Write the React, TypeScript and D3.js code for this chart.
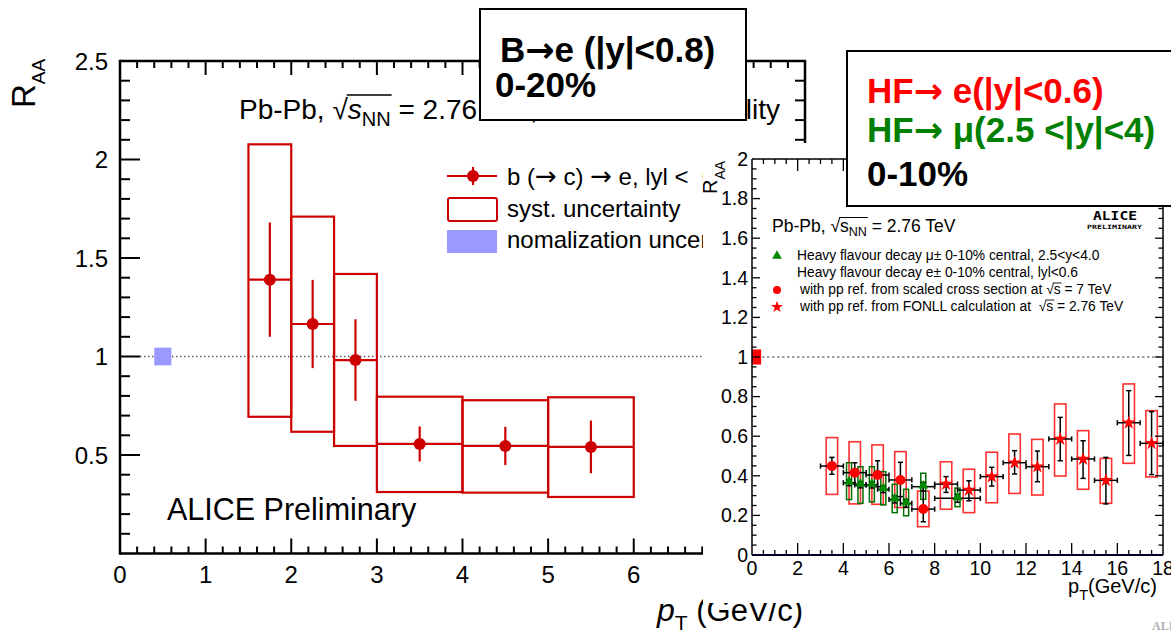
import React, { useEffect, useRef } from 'react';
import * as d3 from 'd3';

const FONT = '"Liberation Sans", Arial, Helvetica, sans-serif';
const ARROW_FONT = '"DejaVu Sans", sans-serif';

// ---- Main panel: b(->c)->e R_AA, Pb-Pb 0-20% ----
const beBinLo = [1.5, 2.0, 2.5, 3.0, 4.0, 5.0];
const beBinHi = [2.0, 2.5, 3.0, 4.0, 5.0, 6.0];
const bePt = [1.75, 2.25, 2.75, 3.5, 4.5, 5.5];
const beRaa = [1.39, 1.165, 0.982, 0.556, 0.546, 0.541];
const beStat = [0.29, 0.224, 0.207, 0.089, 0.097, 0.134];
const beSysHi = [2.077, 1.71, 1.419, 0.796, 0.778, 0.793];
const beSysLo = [0.694, 0.618, 0.546, 0.312, 0.309, 0.287];
const normBox = { x0: 0.4, x1: 0.6, y0: 0.955, y1: 1.045 };

const mainXTicks = [0, 1, 2, 3, 4, 5, 6, 7, 8];
const mainYTicks = [0.5, 1, 1.5, 2, 2.5];

// ---- Inset panel: HF decay leptons, 0-10% ----
// electrons, pp reference from scaled 7 TeV cross section
const eCircPt = [3.5, 4.5, 5.5, 6.5, 7.5];
const eCircRaa = [0.449, 0.416, 0.404, 0.379, 0.232];
const eCircStatUp = [0.044, 0.05, 0.072, 0.089, 0.11];
const eCircStatDn = [0.041, 0.058, 0.059, 0.084, 0.064];
const eCircSysHi = [0.593, 0.572, 0.556, 0.522, 0.323];
const eCircSysLo = [0.306, 0.258, 0.256, 0.24, 0.143];
// electrons, pp reference from FONLL at 2.76 TeV
const eStarPt = [8.5, 9.5, 10.5, 11.5, 12.5, 13.5, 14.5, 15.5, 16.5, 17.5];
const eStarRaa = [0.358, 0.328, 0.396, 0.466, 0.446, 0.586, 0.485, 0.377, 0.668, 0.564];
const eStarStatUp = [0.038, 0.047, 0.047, 0.061, 0.079, 0.109, 0.092, 0.116, 0.162, 0.16];
const eStarStatDn = [0.042, 0.054, 0.048, 0.057, 0.076, 0.11, 0.098, 0.119, 0.165, 0.158];
const eStarSysHi = [0.471, 0.433, 0.519, 0.611, 0.584, 0.763, 0.628, 0.488, 0.864, 0.729];
const eStarSysLo = [0.231, 0.214, 0.264, 0.311, 0.303, 0.399, 0.332, 0.261, 0.463, 0.394];
const eBinHalf = 0.5;
const eBoxHalf = 0.25;
// muons, 2.5<y<4
const muPt = [4.25, 4.75, 5.25, 5.75, 6.25, 6.75, 7.5, 9.0];
const muBinHalf = [0.25, 0.25, 0.25, 0.25, 0.25, 0.25, 0.5, 1.0];
const muRaa = [0.365, 0.354, 0.354, 0.332, 0.281, 0.261, 0.345, 0.286];
const muStat = [0.015, 0.015, 0.016, 0.017, 0.018, 0.02, 0.022, 0.02];
const muSysHi = [0.466, 0.446, 0.446, 0.421, 0.357, 0.332, 0.413, 0.338];
const muSysLo = [0.28, 0.261, 0.268, 0.253, 0.214, 0.198, 0.281, 0.244];
const muBoxHalf = 0.11;
const insetNorm = { x0: 0, x1: 0.4, y0: 0.962, y1: 1.038 };

const insetXTicks = [0, 2, 4, 6, 8, 10, 12, 14, 16, 18];
const insetYTicks = [0, 0.2, 0.4, 0.6, 0.8, 1, 1.2, 1.4, 1.6, 1.8, 2];

type Sel = d3.Selection<any, unknown, null, undefined>;
type Opts = { weight?: string; italic?: boolean; fill?: string; anchor?: string; family?: string };
type Piece = Opts & { t: string; size: number; dy?: number; over?: boolean };

function txt(g: Sel, x: number, y: number, t: string, size: number, o: Opts = {}) {
  return g
    .append('text')
    .attr('x', x)
    .attr('y', y)
    .attr('xml:space', 'preserve')
    .style('white-space', 'pre')
    .attr('font-family', o.family || FONT)
    .attr('font-size', size)
    .attr('font-weight', o.weight || 'normal')
    .attr('font-style', o.italic ? 'italic' : 'normal')
    .attr('fill', o.fill || '#000')
    .attr('text-anchor', o.anchor || 'start')
    .text(t);
}

// lays text pieces side by side; pieces flagged "over" get a radical bar
function rich(g: Sel, x: number, y: number, pieces: Piece[], overY = 0, overW = 1.2) {
  let cx = x;
  let o0: number | null = null;
  let o1 = 0;
  for (const p of pieces) {
    const el = txt(g, cx, y + (p.dy || 0), p.t, p.size, p);
    const w = (el.node() as SVGTextElement).getComputedTextLength();
    if (p.over) {
      if (o0 === null) o0 = cx;
      o1 = cx + w;
    }
    cx += w;
  }
  if (o0 !== null) {
    g.append('line')
      .attr('x1', o0 - 1).attr('x2', o1 + 1)
      .attr('y1', y - overY).attr('y2', y - overY)
      .attr('stroke', '#000').attr('stroke-width', overW);
  }
  return cx;
}

function line(g: Sel, x1: number, y1: number, x2: number, y2: number, stroke: string, w: number) {
  return g.append('line').attr('x1', x1).attr('y1', y1).attr('x2', x2).attr('y2', y2)
    .attr('stroke', stroke).attr('stroke-width', w);
}

function drawMain(svg: Sel) {
  const g = svg.append('g');
  const x = d3.scaleLinear().domain([0, 8]).range([120, 805]);
  const y = d3.scaleLinear().domain([0, 2.5]).range([553.5, 61]);
  const red = '#cc0000';

  // reference line at unity
  line(g, x(0) + 20, y(1), x(8), y(1), '#555', 1.3).attr('stroke-dasharray', '1.4,2.6');

  // normalization uncertainty
  g.append('rect')
    .attr('x', x(normBox.x0)).attr('width', x(normBox.x1) - x(normBox.x0))
    .attr('y', y(normBox.y1)).attr('height', y(normBox.y0) - y(normBox.y1))
    .attr('fill', '#9999ff');

  // systematic boxes, bin-width bars, statistical bars, markers
  bePt.forEach((pt, i) => {
    g.append('rect')
      .attr('x', x(beBinLo[i])).attr('width', x(beBinHi[i]) - x(beBinLo[i]))
      .attr('y', y(beSysHi[i])).attr('height', y(beSysLo[i]) - y(beSysHi[i]))
      .attr('fill', 'none').attr('stroke', red).attr('stroke-width', 2.2);
  });
  bePt.forEach((pt, i) => {
    line(g, x(beBinLo[i]), y(beRaa[i]), x(beBinHi[i]), y(beRaa[i]), red, 2.2);
    line(g, x(pt), y(beRaa[i] + beStat[i]), x(pt), y(beRaa[i] - beStat[i]), red, 2.2);
    g.append('circle').attr('cx', x(pt)).attr('cy', y(beRaa[i])).attr('r', 6).attr('fill', red);
  });

  // frame
  const ax = '#000';
  line(g, x(0), y(0), x(8), y(0), ax, 2.5);
  line(g, x(0), y(0) + 1.2, x(0), y(2.5) - 1.2, ax, 2.5);
  line(g, x(0), y(2.5), x(8) + 1.2, y(2.5), ax, 2.5);
  line(g, x(8), y(0), x(8), y(2.5), ax, 2.5);

  // ticks
  x.ticks(40).forEach((v) => {
    const major = Math.abs(v - Math.round(v)) < 1e-6;
    if (v <= 0 || v >= 8) return;
    line(g, x(v), y(0), x(v), y(0) - (major ? 15 : 7), ax, 2);
    line(g, x(v), y(2.5), x(v), y(2.5) + (major ? 14 : 7), ax, 2);
  });
  y.ticks(25).forEach((v) => {
    const major = Math.abs(v * 2 - Math.round(v * 2)) < 1e-6;
    if (v <= 0 || v >= 2.5) return;
    line(g, x(0), y(v), x(0) + (major ? 20 : 10), y(v), ax, 2);
    line(g, x(8), y(v), x(8) - (major ? 20 : 10), y(v), ax, 2);
  });

  mainYTicks.forEach((v) => txt(g, 108, y(v) + 8.5, String(v), 24, { anchor: 'end' }));
  mainXTicks.forEach((v) => txt(g, x(v), 583, String(v), 24, { anchor: 'middle' }));

  // axis titles
  const yt = g.append('g').attr('transform', 'translate(35,108) rotate(-90)');
  rich(yt, 0, 0, [{ t: 'R', size: 33 }, { t: 'AA', size: 19, dy: 10 }]);
  rich(g, 657, 621, [
    { t: 'p', size: 32, italic: true },
    { t: 'T', size: 21, dy: 9 },
    { t: ' (GeV/c)', size: 31 },
  ]);

  // collision system / centrality
  rich(g, 239, 119, [
    { t: 'Pb-Pb, ', size: 28 },
    { t: '\u221A', size: 28 },
    { t: 's', size: 28, italic: true, over: true },
    { t: 'NN', size: 20, dy: 7, over: true },
    { t: ' = 2.76 TeV, 0-20%', size: 28 },
  ], 24, 1.5);
  txt(g, 780, 119, 'centrality', 28, { anchor: 'end' });

  // legend
  line(g, 447, 176, 497, 176, red, 2.2);
  line(g, 473, 167, 473, 185, red, 2.2);
  g.append('circle').attr('cx', 473).attr('cy', 176).attr('r', 6).attr('fill', red);
  rich(g, 507, 185, [
    { t: 'b (', size: 24 },
    { t: '\u2192', size: 26, family: ARROW_FONT },
    { t: ' c) ', size: 24 },
    { t: '\u2192', size: 26, family: ARROW_FONT },
    { t: ' e, lyl <  0.8', size: 24 },
  ]);
  g.append('rect').attr('x', 448).attr('y', 198).attr('width', 49).attr('height', 23).attr('rx', 2)
    .attr('fill', 'none').attr('stroke', red).attr('stroke-width', 2);
  txt(g, 507, 217, 'syst. uncertainty', 24);
  g.append('rect').attr('x', 447).attr('y', 230).attr('width', 50).attr('height', 23).attr('fill', '#9999ff');
  txt(g, 507, 248, 'nomalization uncertainty', 24);

  txt(g, 167, 520, 'ALICE Preliminary', 30.5);
}

function errBar(g: Sel, x1: number, y1: number, x2: number, y2: number, vertical: boolean) {
  const c = 2.6;
  line(g, x1, y1, x2, y2, '#000', 1.5);
  if (vertical) {
    line(g, x1 - c, y1, x1 + c, y1, '#000', 1.5);
    line(g, x2 - c, y2, x2 + c, y2, '#000', 1.5);
  } else {
    line(g, x1, y1 - c, x1, y1 + c, '#000', 1.5);
    line(g, x2, y2 - c, x2, y2 + c, '#000', 1.5);
  }
}

function drawInset(svg: Sel) {
  const g = svg.append('g');
  g.append('rect').attr('x', 703).attr('y', 143).attr('width', 470).attr('height', 460).attr('fill', '#fff');

  const x = d3.scaleLinear().domain([0, 18]).range([752, 1163]);
  const y = d3.scaleLinear().domain([0, 2]).range([555, 159]);
  const red = '#ff0000';
  const green = '#008a00';

  line(g, x(0), y(1), x(18), y(1), '#444', 1.2).attr('stroke-dasharray', '2.5,2.5');
  g.append('rect')
    .attr('x', x(insetNorm.x0)).attr('width', x(insetNorm.x1) - x(insetNorm.x0))
    .attr('y', y(insetNorm.y1)).attr('height', y(insetNorm.y0) - y(insetNorm.y1))
    .attr('fill', red);

  // systematic boxes
  const box = (pt: number, half: number, hi: number, lo: number, col: string, w: number) =>
    g.append('rect')
      .attr('x', x(pt - half)).attr('width', x(pt + half) - x(pt - half))
      .attr('y', y(hi)).attr('height', y(lo) - y(hi))
      .attr('fill', 'none').attr('stroke', col).attr('stroke-width', w);
  eCircPt.forEach((pt, i) => box(pt, eBoxHalf, eCircSysHi[i], eCircSysLo[i], '#ff3030', 1.6));
  eStarPt.forEach((pt, i) => box(pt, eBoxHalf, eStarSysHi[i], eStarSysLo[i], '#ff3030', 1.6));
  muPt.forEach((pt, i) => box(pt, muBoxHalf, muSysHi[i], muSysLo[i], '#007000', 1.5));

  // error bars
  eCircPt.forEach((pt, i) => {
    errBar(g, x(pt - eBinHalf), y(eCircRaa[i]), x(pt + eBinHalf), y(eCircRaa[i]), false);
    errBar(g, x(pt), y(eCircRaa[i] + eCircStatUp[i]), x(pt), y(eCircRaa[i] - eCircStatDn[i]), true);
  });
  eStarPt.forEach((pt, i) => {
    errBar(g, x(pt - eBinHalf), y(eStarRaa[i]), x(pt + eBinHalf), y(eStarRaa[i]), false);
    errBar(g, x(pt), y(eStarRaa[i] + eStarStatUp[i]), x(pt), y(eStarRaa[i] - eStarStatDn[i]), true);
  });
  muPt.forEach((pt, i) => {
    errBar(g, x(pt - muBinHalf[i]), y(muRaa[i]), x(pt + muBinHalf[i]), y(muRaa[i]), false);
    errBar(g, x(pt), y(muRaa[i] + muStat[i]), x(pt), y(muRaa[i] - muStat[i]), true);
  });

  // markers
  const tri = d3.symbol(d3.symbolTriangle, 42)();
  const star = d3.symbol(d3.symbolStar, 60)();
  muPt.forEach((pt, i) =>
    g.append('path').attr('d', tri).attr('transform', `translate(${x(pt)},${y(muRaa[i]) - 1})`).attr('fill', green));
  eCircPt.forEach((pt, i) =>
    g.append('circle').attr('cx', x(pt)).attr('cy', y(eCircRaa[i])).attr('r', 5).attr('fill', red));
  eStarPt.forEach((pt, i) =>
    g.append('path').attr('d', star).attr('transform', `translate(${x(pt)},${y(eStarRaa[i])})`).attr('fill', red));

  // frame
  line(g, x(0), y(0), x(18), y(0), '#000022', 2);
  line(g, x(0), y(0), x(0), y(2), '#000', 1.5);
  line(g, x(0), y(2), x(18), y(2), '#000', 1.5);
  line(g, x(18), y(0), x(18), y(2), '#000', 1.5);
  x.ticks(36).forEach((v) => {
    if (v <= 0 || v >= 18) return;
    const major = Math.abs(v / 2 - Math.round(v / 2)) < 1e-6;
    line(g, x(v), y(0), x(v), y(0) - (major ? 12 : 5), '#000', 1.3);
    line(g, x(v), y(2), x(v), y(2) + (major ? 12 : 5), '#000', 1.3);
  });
  y.ticks(40).forEach((v) => {
    if (v <= 0 || v >= 2) return;
    const major = Math.abs(v * 5 - Math.round(v * 5)) < 1e-6;
    line(g, x(0), y(v), x(0) + (major ? 8 : 4.5), y(v), '#000', 1.3);
    line(g, x(18), y(v), x(18) - (major ? 8 : 4.5), y(v), '#000', 1.3);
  });
  insetYTicks.forEach((v) => txt(g, 748, y(v) + 6.8, String(v), 19.5, { anchor: 'end' }));
  insetXTicks.forEach((v) => txt(g, x(v), 575, String(v), 19.5, { anchor: 'middle' }));

  const yt = g.append('g').attr('transform', 'translate(717,194) rotate(-90)');
  rich(yt, 0, 0, [{ t: 'R', size: 20 }, { t: 'AA', size: 14, dy: 8 }]);
  rich(g, 1068, 593, [
    { t: 'p', size: 20 },
    { t: 'T', size: 14.5, dy: 7 },
    { t: '(GeV/c)', size: 20 },
  ]);

  rich(g, 772, 232, [
    { t: 'Pb-Pb, ', size: 17.5 },
    { t: '\u221A', size: 17.5 },
    { t: 's', size: 17.5, over: true },
    { t: 'NN', size: 12.5, dy: 4, over: true },
    { t: ' = 2.76 TeV', size: 17.5 },
  ], 14.5, 1);

  txt(g, 1093, 220, 'ALICE', 13, { weight: 'bold', family: '"DejaVu Sans Mono", monospace' })
    .attr('textLength', 44).attr('lengthAdjust', 'spacingAndGlyphs');
  txt(g, 1087, 229, 'PRELIMINARY', 6, { weight: 'bold', family: '"DejaVu Sans Mono", monospace' })
    .attr('textLength', 55).attr('lengthAdjust', 'spacingAndGlyphs');

  // legend
  const ls = 13.8;
  g.append('path').attr('d', tri).attr('transform', 'translate(777,256)').attr('fill', green);
  txt(g, 797, 260, 'Heavy flavour decay \u03BC\u00B1 0-10% central, 2.5<y<4.0', ls);
  txt(g, 797, 277, 'Heavy flavour decay e\u00B1 0-10% central, lyl<0.6', ls);
  g.append('circle').attr('cx', 777).attr('cy', 290).attr('r', 4).attr('fill', red);
  rich(g, 800, 294, [
    { t: 'with pp ref. from scaled cross section at ', size: ls },
    { t: '\u221A', size: ls },
    { t: 's', size: ls, over: true },
    { t: ' = 7 TeV', size: ls },
  ], 11, 0.9);
  g.append('path').attr('d', d3.symbol(d3.symbolStar, 45)()).attr('transform', 'translate(777,307)').attr('fill', red);
  rich(g, 800, 311, [
    { t: 'with pp ref. from FONLL calculation at  ', size: ls },
    { t: '\u221A', size: ls },
    { t: 's', size: ls, over: true },
    { t: ' = 2.76 TeV', size: ls },
  ], 11, 0.9);
}

function drawBoxes(svg: Sel) {
  const g = svg.append('g');
  const bs = 35;
  g.append('rect').attr('x', 480).attr('y', 9).attr('width', 266).attr('height', 111)
    .attr('fill', '#fff').attr('stroke', '#000').attr('stroke-width', 2);
  rich(g, 500, 62, [
    { t: 'B', size: bs, weight: 'bold' },
    { t: '\u2192', size: bs, weight: 'bold', family: ARROW_FONT },
    { t: 'e (|y|<0.8)', size: bs, weight: 'bold' },
  ]);
  txt(g, 495, 97, '0-20%', bs, { weight: 'bold' });

  g.append('rect').attr('x', 847).attr('y', 51).attr('width', 340).attr('height', 155)
    .attr('fill', '#fff').attr('stroke', '#000').attr('stroke-width', 2);
  rich(g, 867, 103, [
    { t: 'HF', size: bs, weight: 'bold', fill: '#ff0000' },
    { t: '\u2192', size: bs, weight: 'bold', fill: '#ff0000', family: ARROW_FONT },
    { t: ' e(|y|<0.6)', size: bs, weight: 'bold', fill: '#ff0000' },
  ]);
  rich(g, 867, 142, [
    { t: 'HF', size: bs, weight: 'bold', fill: '#008000' },
    { t: '\u2192', size: bs, weight: 'bold', fill: '#008000', family: ARROW_FONT },
    { t: ' \u03BC(2.5 <|y|<4)', size: bs, weight: 'bold', fill: '#008000' },
  ]);
  txt(g, 867, 186, '0-10%', bs, { weight: 'bold' });

  txt(g, 1152, 630, 'ALICE', 12, { weight: 'bold', fill: '#b0b0b0', family: '"Liberation Serif", serif' });
}

export default function App() {
  const ref = useRef<SVGSVGElement>(null);
  useEffect(() => {
    const svg = d3.select(ref.current) as Sel;
    svg.selectAll('*').remove();
    drawMain(svg);
    drawInset(svg);
    drawBoxes(svg);
  }, []);
  return (
    <div style={{ position: 'absolute', left: 0, top: 0 }}>
      <svg ref={ref} width={1171} height={637} style={{ display: 'block', background: '#fff' }} />
    </div>
  );
}
